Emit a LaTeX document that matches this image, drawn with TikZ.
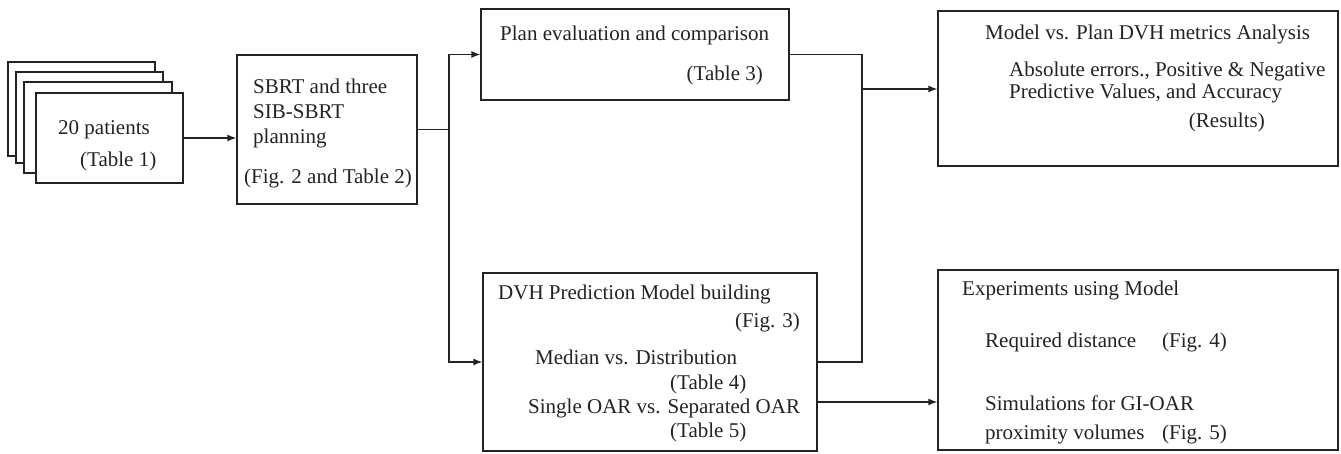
\documentclass[tikz,border=0pt]{standalone}
\usepackage{fontspec}
\setmainfont{Liberation Serif}
\usetikzlibrary{arrows.meta,calc}
\definecolor{ink}{RGB}{35,35,35}
\begin{document}
\begin{tikzpicture}[x=1pt,y=-1pt,
  font=\fontsize{21}{24}\selectfont,
  every node/.style={text=ink},
  box/.style={draw=ink,line width=1.3pt,fill=white,inner sep=0pt,minimum width=#1},
  box/.default=100pt,
  conn/.style={draw=ink,line width=1.3pt},
  arr/.style={conn,-{Latex[length=9pt,width=7pt]}},
  lbl/.style={anchor=base west,inner sep=0pt},
  rlbl/.style={anchor=base east,inner sep=0pt}]
\useasboundingbox (0,0) rectangle (1341,454);

% stacked patient sheets
\node[box=147pt,minimum height=94pt] (pA) at (81.5,109) {};
\node[box=147pt,minimum height=91pt] (pB) at (89.5,117.5) {};
\node[box=148pt,minimum height=91pt] (pC) at (98,127.5) {};
\node[box=147pt,minimum height=90pt] (pD) at (109.5,138) {};
\node[lbl] (tPat) at (58,135) {20 patients};
\node[lbl] (tPatT) at (80,167) {(Table 1)};

% planning
\node[box=180pt,minimum height=149pt] (sbrt) at (327,129.5) {};
\node[lbl] (tS1) at (253,94) {SBRT and three};
\node[lbl] (tS2) at (253,119) {SIB-SBRT};
\node[lbl] (tS3) at (253,144) {planning};
\node[lbl] (tS4) at (244,184) {(Fig. 2 and Table 2)};

% plan evaluation
\node[box=308pt,minimum height=91pt] (plan) at (635,54.5) {};
\node[lbl] (tP1) at (500,41) {Plan evaluation and comparison};
\node[rlbl] (tP2) at (763,81) {(Table 3)};

% DVH model
\node[box=334pt,minimum height=178pt] (dvh) at (650,362) {};
\node[lbl] (tD1) at (498,299) {DVH Prediction Model building};
\node[rlbl] (tD2) at (800,327) {(Fig. 3)};
\node[lbl] (tD3) at (535,364) {Median vs. Distribution};
\node[lbl] (tD4) at (670,389) {(Table 4)};
\node[lbl] (tD5) at (528,413) {Single OAR vs. Separated OAR};
\node[lbl] (tD6) at (670,437) {(Table 5)};

% analysis
\node[box=400pt,minimum height=155pt] (model) at (1138,88.5) {};
\node[lbl] (tM1) at (985,40) {Model vs. Plan DVH metrics Analysis};
\node[lbl] (tM2) at (1009,77) {Absolute errors., Positive \& Negative};
\node[lbl] (tM3) at (1009,99) {Predictive Values, and Accuracy};
\node[rlbl] (tM4) at (1265,128) {(Results)};

% experiments
\node[box=400pt,minimum height=180pt] (exp) at (1138,360) {};
\node[lbl] (tE1) at (962,296) {Experiments using Model};
\node[lbl] (tE2) at (985,347) {Required distance};
\node[lbl] (tE3) at (1162,347) {(Fig. 4)};
\node[lbl] (tE4) at (985,410) {Simulations for GI-OAR};
\node[lbl] (tE5) at (985,439) {proximity volumes};
\node[lbl] (tE6) at (1162,439) {(Fig. 5)};

% connectors
\coordinate (jL) at (449,129.5);
\coordinate (jR) at (862,89);
\coordinate (dOut) at (817,402);

\draw[arr] (pD.east) -- (pD.east -| sbrt.west);
\draw[conn] (sbrt.east) -- (jL);
\draw[arr] (jL) |- (plan.west);
\draw[arr] (jL) |- (dvh.west);
\draw[conn] (plan.east) -| (jR);
\draw[conn] (dvh.east) -| (jR);
\draw[arr] (jR) -- (jR -| model.west);
\draw[arr] (dOut) -- (dOut -| exp.west);
\end{tikzpicture}
\end{document}
